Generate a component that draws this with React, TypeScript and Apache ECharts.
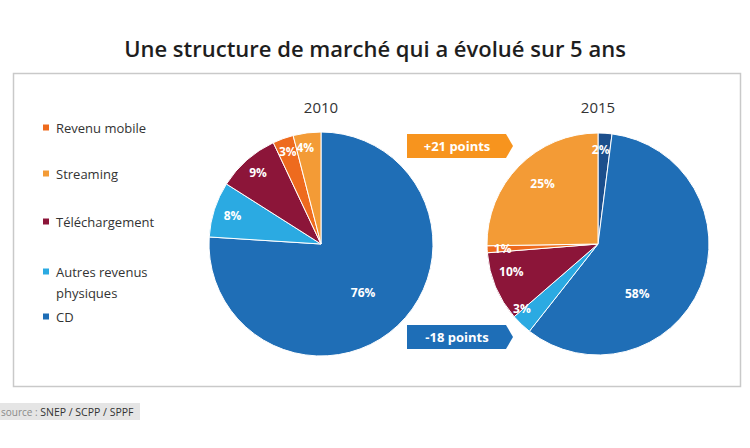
import React, { useEffect, useRef } from "react";
import * as echarts from "echarts";

// ---- data ----
const CATEGORIES_2010 = ["CD", "Autres revenus physiques", "Téléchargement", "Revenu mobile", "Streaming"];
const VALUES_2010 = [76, 8, 9, 3, 4];
const CATEGORIES_2015 = ["Autre", "CD", "Autres revenus physiques", "Téléchargement", "Revenu mobile", "Streaming"];
const VALUES_2015 = [2, 58, 3, 10, 1, 25];
const LEGEND_ITEMS = ["Revenu mobile", "Streaming", "Téléchargement", "Autres revenus\nphysiques", "CD"];
const LEGEND_KEYS = ["Revenu mobile", "Streaming", "Téléchargement", "Autres revenus physiques", "CD"];
const YEARS = ["2010", "2015"];
const ARROW_TEXTS = ["+21 points", "-18 points"];
const TITLE = "Une structure de marché qui a évolué sur 5 ans";
const SOURCE_PREFIX = "source : ";
const SOURCE_NAMES = "SNEP / SCPP / SPPF";

// ---- styles ----
const COLORS: Record<string, string> = {
  "CD": "#1F6EB6",
  "Autres revenus physiques": "#2BAAE2",
  "Téléchargement": "#8C1539",
  "Revenu mobile": "#EE6B1E",
  "Streaming": "#F39B36",
  "Autre": "#1C4F8C",
};
const FONT = "'Open Sans', 'Noto Sans', sans-serif";

const PIE_A = { cx: 321, cy: 244, r: 112 };
const PIE_B = { cx: 598, cy: 244, r: 111 };
const LABEL_FRAC_A = [0.57, 0.83, 0.85, 0.875, 0.875];
const LABEL_TURN_A = [2, 0, 0, 0, -2];
const LABEL_FRAC_B = [0.85, 0.57, 0.9, 0.82, 0.86, 0.74];
const LABEL_TURN_B = [-2, 29, 6, 5, 0, 3];
const LEGEND_Y = [128, 174, 222, 272, 317];

function labelLayoutFor(p: { cx: number; cy: number; r: number }, fracs: number[], turns: number[]) {
  return (params: any) => {
    const lr = params.labelRect;
    const lx = lr.x + lr.width / 2;
    const ly = lr.y + lr.height / 2;
    const ang = Math.atan2(ly - p.cy, lx - p.cx) + ((turns[params.dataIndex] || 0) * Math.PI) / 180;
    const d = fracs[params.dataIndex] * p.r;
    return { x: p.cx + d * Math.cos(ang), y: p.cy + d * Math.sin(ang) };
  };
}

function pieSeries(name: string, cats: string[], vals: number[], p: any, fracs: number[], turns: number[]) {
  return {
    type: "pie",
    name,
    center: [p.cx, p.cy],
    radius: [0, p.r],
    startAngle: 90,
    clockwise: true,
    avoidLabelOverlap: false,
    itemStyle: { borderColor: "#ffffff", borderWidth: 1 },
    label: {
      show: true,
      position: "inside",
      formatter: "{c}%",
      color: "#ffffff",
      fontFamily: FONT,
      fontWeight: "bold",
      fontSize: 12,
    },
    labelLine: { show: false },
    labelLayout: labelLayoutFor(p, fracs, turns),
    emphasis: { disabled: true },
    data: cats.map((c, i) => ({ name: c, value: vals[i], itemStyle: { color: COLORS[c] } })),
  };
}

function arrow(y: number, color: string, text: string) {
  const x0 = 407, x1 = 506, x2 = 513, h = 24;
  return {
    type: "group",
    children: [
      {
        type: "polygon",
        shape: { points: [[x0, y], [x1, y], [x2, y + h / 2], [x1, y + h], [x0, y + h]] },
        style: { fill: color },
      },
      {
        type: "text",
        x: 457,
        y: y + h / 2,
        style: {
          text,
          fill: "#ffffff",
          font: `bold 13px ${FONT}`,
          textAlign: "center",
          textVerticalAlign: "middle",
        },
      },
    ],
  };
}

export default function App() {
  const ref = useRef<HTMLDivElement>(null);
  useEffect(() => {
    document.body.style.margin = "0";
    if (!ref.current) return;
    const chart = echarts.init(ref.current, undefined, { renderer: "svg" });
    const legendGraphics = LEGEND_ITEMS.map((label, i) => ({
      type: "group",
      children: [
        {
          type: "rect",
          shape: { x: 43, y: LEGEND_Y[i] - 3.5, width: 6, height: 6 },
          style: { fill: COLORS[LEGEND_KEYS[i]] },
        },
        {
          type: "text",
          x: 56,
          y: LEGEND_Y[i] - 10.5,
          style: {
            text: label,
            fill: "#333333",
            font: `13px ${FONT}`,
            lineHeight: 21,
            textAlign: "left",
            textVerticalAlign: "top",
          },
        },
      ],
    }));
    chart.setOption({
      animation: false,
      backgroundColor: "#ffffff",
      title: {
        text: TITLE,
        left: "center",
        top: 32,
        textStyle: { fontFamily: FONT, fontSize: 22, fontWeight: 600, color: "#1e1e1e" },
      },
      series: [
        pieSeries("2010", CATEGORIES_2010, VALUES_2010, PIE_A, LABEL_FRAC_A, LABEL_TURN_A),
        pieSeries("2015", CATEGORIES_2015, VALUES_2015, PIE_B, LABEL_FRAC_B, LABEL_TURN_B),
      ],
      graphic: [
        {
          type: "rect",
          z: -10,
          shape: { x: 13.5, y: 73.5, width: 727, height: 313 },
          style: { fill: "none", stroke: "#c9c9c9", lineWidth: 1.5 },
        },
        ...YEARS.map((yr, i) => ({
          type: "text",
          x: i === 0 ? PIE_A.cx : PIE_B.cx,
          y: 107,
          style: {
            text: yr,
            fill: "#333333",
            font: `15px ${FONT}`,
            textAlign: "center",
            textVerticalAlign: "middle",
          },
        })),
        ...legendGraphics,
        arrow(134, "#F7941E", ARROW_TEXTS[0]),
        arrow(325, "#1E6EB7", ARROW_TEXTS[1]),
        {
          type: "rect",
          shape: { x: 0, y: 403, width: 140, height: 17 },
          style: { fill: "#e5e5e5" },
        },
        {
          type: "text",
          x: 1,
          y: 412,
          style: {
            text: `{a|${SOURCE_PREFIX}}{b|${SOURCE_NAMES}}`,
            textVerticalAlign: "middle",
            rich: {
              a: { fill: "#8a8a8a", font: `10px ${FONT}` },
              b: { fill: "#333333", font: `10.5px ${FONT}` },
            },
          },
        },
      ],
    });
    return () => chart.dispose();
  }, []);
  return <div ref={ref} style={{ width: 750, height: 448 }} />;
}
